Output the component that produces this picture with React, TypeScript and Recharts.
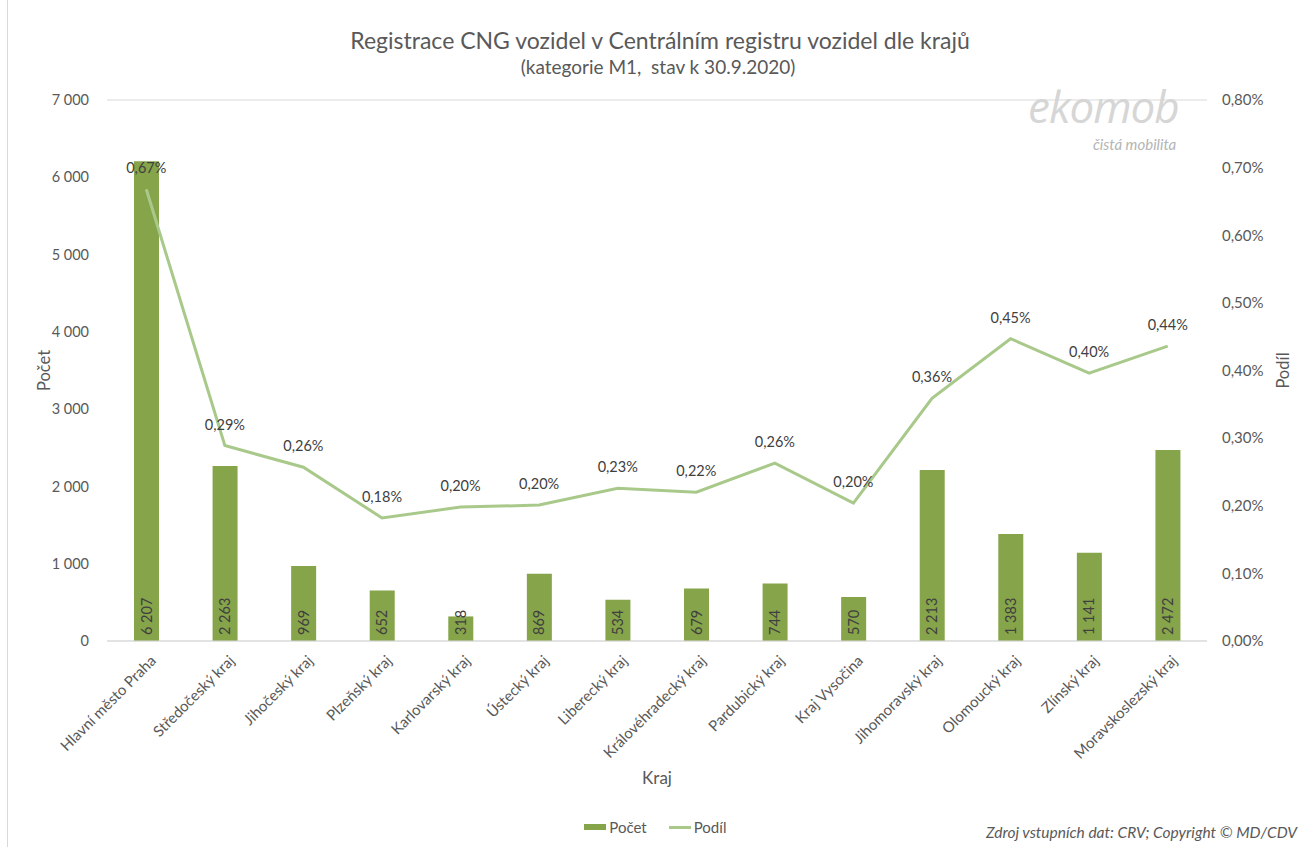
import React from 'react';
import {
  ComposedChart,
  Bar,
  Line,
  XAxis,
  YAxis,
  CartesianGrid,
  Legend,
  LabelList,
} from 'recharts';

const regions = [
  'Hlavní město Praha',
  'Středočeský kraj',
  'Jihočeský kraj',
  'Plzeňský kraj',
  'Karlovarský kraj',
  'Ústecký kraj',
  'Liberecký kraj',
  'Královéhradecký kraj',
  'Pardubický kraj',
  'Kraj Vysočina',
  'Jihomoravský kraj',
  'Olomoucký kraj',
  'Zlínský kraj',
  'Moravskoslezský kraj',
];

// počet registrovaných CNG vozidel M1
const counts = [6207, 2263, 969, 652, 318, 869, 534, 679, 744, 570, 2213, 1383, 1141, 2472];

// podíl v procentech
const shares = [0.668, 0.289, 0.257, 0.182, 0.198, 0.201, 0.226, 0.22, 0.263, 0.204, 0.359, 0.447, 0.396, 0.436];

const countTicks = [0, 1000, 2000, 3000, 4000, 5000, 6000, 7000];
const shareTicks = [0, 0.1, 0.2, 0.3, 0.4, 0.5, 0.6, 0.7, 0.8];

const BAR_COLOR = '#86a44a';
const LINE_COLOR = '#a9c98b';
const GRID_COLOR = '#d9d9d9';
const TEXT_COLOR = '#595959';
const LABEL_COLOR = '#404040';
const FONT = 'Lato, "Open Sans", sans-serif';

const data = regions.map((name, i) => ({
  name,
  pocet: counts[i],
  podil: shares[i],
}));

const fmtCount = (v: number) => String(v).replace(/\B(?=(\d{3})+(?!\d))/g, ' ');
const fmtShare = (v: number) => v.toFixed(2).replace('.', ',') + '%';

function XTick({ x, y, payload }: any) {
  return (
    <g transform={`translate(${x + 7},${y + 9})`}>
      <text
        x={0}
        y={0}
        dy="0.35em"
        textAnchor="end"
        transform="rotate(-45)"
        fontSize={15}
        fill={TEXT_COLOR}
        fontFamily={FONT}
      >
        {payload.value}
      </text>
    </g>
  );
}

function BarValueLabel({ x, y, width, height, value }: any) {
  const cx = x + width / 2;
  const bottom = y + height;
  return (
    <text
      x={cx}
      y={bottom - 6}
      dy="0.35em"
      textAnchor="start"
      transform={`rotate(-90, ${cx}, ${bottom - 6})`}
      fontSize={14.5}
      fill={LABEL_COLOR}
      fontFamily={FONT}
    >
      {fmtCount(value)}
    </text>
  );
}

function LineValueLabel({ x, y, value }: any) {
  return (
    <text x={x} y={y - 16} textAnchor="middle" fontSize={14.5} fill={LABEL_COLOR} fontFamily={FONT}>
      {fmtShare(value)}
    </text>
  );
}

function LegendContent() {
  return (
    <div
      style={{
        display: 'flex',
        justifyContent: 'center',
        alignItems: 'center',
        height: 20,
        fontFamily: FONT,
        fontSize: 15,
        color: TEXT_COLOR,
      }}
    >
      <span style={{ display: 'flex', alignItems: 'center', marginRight: 22 }}>
        <span style={{ width: 22, height: 6, background: BAR_COLOR, marginRight: 3 }} />
        Počet
      </span>
      <span style={{ display: 'flex', alignItems: 'center' }}>
        <span style={{ width: 22, height: 3, background: LINE_COLOR, marginRight: 3 }} />
        Podíl
      </span>
    </div>
  );
}

export default function App() {
  return (
    <div
      style={{
        position: 'absolute',
        left: 0,
        top: 0,
        width: 1301,
        height: 847,
        background: '#fff',
        fontFamily: FONT,
      }}
    >
      <div style={{ position: 'absolute', left: 7, top: 0, width: 1, height: 847, background: GRID_COLOR }} />
      <div
        style={{
          position: 'absolute',
          left: 0,
          top: 26,
          width: 1320,
          textAlign: 'center',
          fontSize: 23,
          color: TEXT_COLOR,
          lineHeight: '28px',
        }}
      >
        Registrace CNG vozidel v Centrálním registru vozidel dle krajů
      </div>
      <div
        style={{
          position: 'absolute',
          left: 0,
          top: 56,
          width: 1316,
          textAlign: 'center',
          fontSize: 19,
          color: TEXT_COLOR,
          lineHeight: '22px',
        }}
      >
        (kategorie M1,&nbsp; stav k 30.9.2020)
      </div>

      <ComposedChart
        width={1301}
        height={847}
        data={data}
        margin={{ top: 100, right: 10, bottom: 10, left: 20 }}
      >
        <CartesianGrid vertical={false} stroke={GRID_COLOR} />
        <XAxis
          dataKey="name"
          interval={0}
          height={176}
          tick={<XTick />}
          tickLine={false}
          axisLine={{ stroke: GRID_COLOR }}
          label={{
            content: ({ viewBox }: any) => (
              <text
                x={viewBox.x + viewBox.width / 2}
                y={viewBox.y + 143}
                textAnchor="middle"
                fontSize={17}
                fill={TEXT_COLOR}
                fontFamily={FONT}
              >
                Kraj
              </text>
            ),
          }}
        />
        <YAxis
          yAxisId="left"
          width={87}
          domain={[0, 7000]}
          ticks={countTicks}
          tickFormatter={fmtCount}
          axisLine={false}
          tickLine={false}
          tickMargin={12}
          tick={{ fontSize: 14.5, fill: TEXT_COLOR, fontFamily: FONT }}
          label={{
            content: ({ viewBox }: any) => {
              const cx = 44;
              const cy = viewBox.y + viewBox.height / 2;
              return (
                <text
                  x={cx}
                  y={cy}
                  textAnchor="middle"
                  dy="0.35em"
                  transform={`rotate(-90, ${cx}, ${cy})`}
                  fontSize={16.5}
                  fill={TEXT_COLOR}
                  fontFamily={FONT}
                >
                  Počet
                </text>
              );
            },
          }}
        />
        <YAxis
          yAxisId="right"
          orientation="right"
          width={84}
          domain={[0, 0.8]}
          ticks={shareTicks}
          tickFormatter={fmtShare}
          axisLine={false}
          tickLine={false}
          tickMargin={9}
          tick={{ fontSize: 15, fill: TEXT_COLOR, fontFamily: FONT }}
          label={{
            content: ({ viewBox }: any) => {
              const cx = 1283;
              const cy = viewBox.y + viewBox.height / 2;
              return (
                <text
                  x={cx}
                  y={cy}
                  textAnchor="middle"
                  dy="0.35em"
                  transform={`rotate(-90, ${cx}, ${cy})`}
                  fontSize={16.5}
                  fill={TEXT_COLOR}
                  fontFamily={FONT}
                >
                  Podíl
                </text>
              );
            },
          }}
        />
        <Legend verticalAlign="bottom" height={20} content={<LegendContent />} />
        <Bar yAxisId="left" dataKey="pocet" name="Počet" fill={BAR_COLOR} barSize={25} isAnimationActive={false}>
          <LabelList dataKey="pocet" content={<BarValueLabel />} />
        </Bar>
        <Line
          yAxisId="right"
          dataKey="podil"
          name="Podíl"
          stroke={LINE_COLOR}
          strokeWidth={3}
          dot={false}
          isAnimationActive={false}
        >
          <LabelList dataKey="podil" content={<LineValueLabel />} />
        </Line>
      </ComposedChart>

      {/* logo ekomob */}
      <div
        style={{
          position: 'absolute',
          left: 1028,
          top: 86,
          fontSize: 44,
          fontStyle: 'italic',
          color: '#d6d6d6',
          lineHeight: '40px',
          height: 40,
          letterSpacing: -1,
          fontFamily: '"Open Sans", sans-serif',
        }}
      >
        ekomob
      </div>
      <div
        style={{
          position: 'absolute',
          left: 1093,
          top: 136,
          fontSize: 15,
          fontStyle: 'italic',
          color: '#b4b4b4',
          lineHeight: '16px',
        }}
      >
        čistá mobilita
      </div>
      <div
        style={{
          position: 'absolute',
          right: 4,
          top: 823,
          fontSize: 15.5,
          fontStyle: 'italic',
          color: TEXT_COLOR,
          lineHeight: '18px',
        }}
      >
        Zdroj vstupních dat: CRV; Copyright © MD/CDV
      </div>
    </div>
  );
}
